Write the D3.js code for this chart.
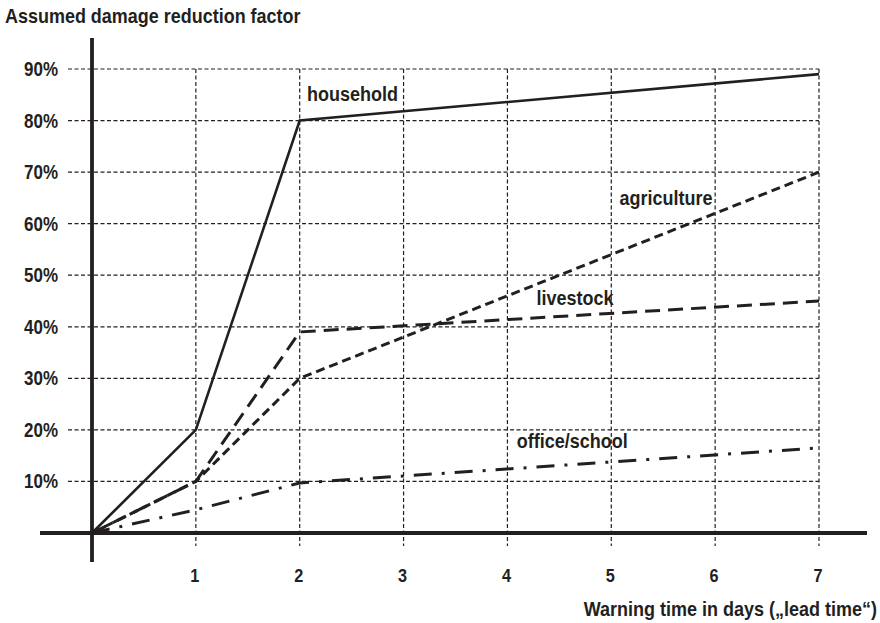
<!DOCTYPE html>
<html><head><meta charset="utf-8">
<script src="https://cdn.jsdelivr.net/npm/d3@7"></script>
<style>body{margin:0;background:#fff}svg text{font-family:"Liberation Sans","Arial",sans-serif;font-weight:bold;fill:#231f20}</style>
</head><body><svg id="c" width="880" height="623"></svg>
<script>
const days = [0,1,2,7];
const household = [0,20,80,89];
const agriculture = [0,10,30,70];
const livestock = [0,10,39,45];
const officeSchool = [0,4.5,9.7,16.5];
const xTicks = [1,2,3,4,5,6,7];
const yTicks = [10,20,30,40,50,60,70,80,90];
const yTickLabels = ["10%","20%","30%","40%","50%","60%","70%","80%","90%"];
const seriesNames = ["household","agriculture","livestock","office/school"];

const svg = d3.select("#c");
const x = d3.scaleLinear().domain([0,7]).range([92,819]);
const y = d3.scaleLinear().domain([0,90]).range([533,69]);
const ink = "#231f20";
const tf = (px,py,sx)=>`translate(${px},${py}) scale(${sx},1)`;

// horizontal grid
svg.append("g").selectAll("line").data(yTicks).join("line")
  .attr("x1",68).attr("x2",x(7)).attr("y1",d=>y(d)).attr("y2",d=>y(d))
  .attr("stroke",ink).attr("stroke-width",1.2).attr("stroke-dasharray","4,2.5");
// vertical grid
svg.append("g").selectAll("line").data(xTicks).join("line")
  .attr("x1",d=>x(d)).attr("x2",d=>x(d)).attr("y1",y(90)).attr("y2",y(0)+13)
  .attr("stroke",ink).attr("stroke-width",1.2).attr("stroke-dasharray","4,2.5");

// axes
svg.append("line").attr("x1",x(0)).attr("x2",x(0)).attr("y1",38).attr("y2",562).attr("stroke",ink).attr("stroke-width",3.8);
svg.append("line").attr("x1",40).attr("x2",867).attr("y1",y(0)).attr("y2",y(0)).attr("stroke",ink).attr("stroke-width",3.8);

// tick labels
svg.append("g").selectAll("text").data(yTicks).join("text")
  .attr("transform",d=>tf(58,y(d)+7,0.87)).attr("text-anchor","end").attr("font-size",19.5)
  .text((d,i)=>yTickLabels[i]);
svg.append("g").selectAll("text").data(xTicks).join("text")
  .attr("transform",d=>tf(x(d)-1,582,0.88)).attr("text-anchor","middle").attr("font-size",18.5)
  .text(d=>d);

// titles
svg.append("text").attr("transform",tf(5,23,0.89)).attr("font-size",20.2).text("Assumed damage reduction factor");
svg.append("text").attr("transform",tf(877,616,0.9)).attr("text-anchor","end").attr("font-size",20).text("Warning time in days (\u201Elead time\u201C)");

// series
const data = [household, agriculture, livestock, officeSchool];
const dashes = [null, "9,5", "15,8", "18,10,3,10"];
const widths = [2.6, 3, 3, 3];
const line = d3.line().x((d,i)=>x(days[i])).y(d=>y(d));
data.forEach((s,k)=>{
  svg.append("path").attr("d",line(s)).attr("fill","none").attr("stroke",ink)
    .attr("stroke-width",widths[k]).attr("stroke-dasharray",dashes[k]);
});

// series labels
const labelPos = [[2.07,83.8],[5.08,63.6],[4.28,44.2],[4.09,16.5]];
svg.append("g").selectAll("text").data(seriesNames).join("text")
  .attr("transform",(d,i)=>tf(x(labelPos[i][0]),y(labelPos[i][1]),0.9))
  .attr("font-size",20).text(d=>d);
</script></body></html>
